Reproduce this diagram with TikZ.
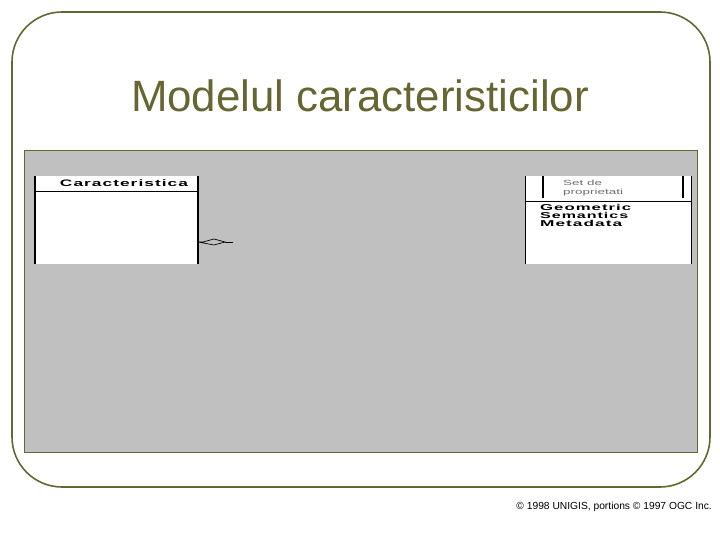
\documentclass[tikz,border=0pt]{standalone}
\usepackage{fontspec}
\setmainfont{Liberation Sans}
\definecolor{olive}{RGB}{102,102,51}
\definecolor{panelgray}{RGB}{192,192,192}
\definecolor{faintgray}{RGB}{110,110,110}
\tikzset{
  frame/.style={draw=olive, line width=1.6bp, rounded corners=50bp},
  panel/.style={draw=olive, line width=0.8bp, fill=panelgray},
  whitebox/.style={fill=white, draw=none, inner sep=0pt},
  thickside/.style={draw=black, line width=1.8bp},
  thinline/.style={draw=black, line width=1bp},
  smallbold/.style={font=\fontsize{9}{10}\selectfont\bfseries, inner sep=0pt},
  attr/.style={smallbold, anchor=base west},
}
\begin{document}
\begin{tikzpicture}[x=1bp,y=-1bp]
\useasboundingbox (0,0) rectangle (720,540);
\fill[white] (0,0) rectangle (720,540);
% outer frame
\draw[frame] (12,12) rectangle (710,487);
% title
\node[text=olive, font=\fontsize{44}{48}\selectfont, inner sep=0pt] (title) at (360,96) {Modelul caracteristicilor};
% panel
\draw[panel] (24,150) rectangle (697,452);
% left class box
\node[whitebox, minimum width=163bp, minimum height=88bp] (carac) at (116.5,220) {};
\draw[thickside] (carac.north west) -- (carac.south west);
\draw[thickside] (carac.north east) -- (carac.south east);
\draw[thinline] ([yshift=-16bp]carac.north west) -- ([yshift=-16bp]carac.north east);
\node[smallbold, anchor=center] (caractitle) at (124,183.5) {\resizebox{128bp}{6.8bp}{\addfontfeature{LetterSpace=6}Caracteristica}};
% aggregation diamond
\coordinate (aggA) at (carac.east |- 0,242);
\coordinate (aggB) at (203,242);
\coordinate (aggC) at (214,239);
\coordinate (aggD) at (225,242);
\coordinate (aggE) at (214,245);
\coordinate (aggF) at (233,242);
\draw[black, line width=0.7bp] (aggA) -- (aggB) -- (aggC) -- (aggD) -- (aggE) -- cycle;
\draw[black, line width=0.7bp] (aggD) -- (aggF);
% right class box
\node[whitebox, minimum width=165bp, minimum height=88bp] (setbox) at (608.5,220) {};
\draw[thinline] (setbox.north west) -- (setbox.south west);
\draw[thinline] (setbox.north east) -- (setbox.south east);
\draw[thinline] ([yshift=-26bp]setbox.north west) -- ([yshift=-26bp]setbox.north east);
\node[whitebox, minimum width=140bp, minimum height=22bp] (prop) at (613,187) {};
\draw[thickside] (prop.north west) -- (prop.south west);
\draw[thickside] (prop.north east) -- (prop.south east);
\node[font=\fontsize{7.5}{9}\selectfont, text=faintgray, align=left, inner sep=0pt, anchor=north west] (proptext) at (563,180) {\scalebox{1.8}[1]{Set de}\\\scalebox{1.8}[1]{proprietati}};
\node[attr] (geom) at (540,211) {\resizebox{91bp}{6.2bp}{\addfontfeature{LetterSpace=6}Geometric}};
\node[attr] (sem) at (540,219) {\resizebox{88bp}{6.2bp}{\addfontfeature{LetterSpace=6}Semantics}};
\node[attr] (meta) at (540,227) {\resizebox{82bp}{6.2bp}{\addfontfeature{LetterSpace=6}Metadata}};
% copyright
\node[font=\fontsize{10.3}{12}\selectfont, inner sep=0pt, anchor=east] (copy) at (712,507) {© 1998 UNIGIS, portions © 1997 OGC Inc.};
\end{tikzpicture}
\end{document}
